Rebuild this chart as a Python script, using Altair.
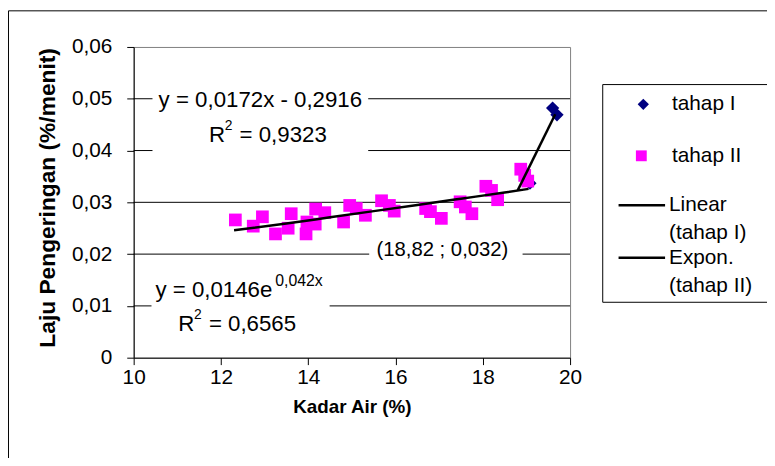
import altair as alt
import pandas as pd

# ---- data ----
# tahap II (magenta squares)
kadar2 = [12.33, 12.74, 12.95, 13.25, 13.54, 13.61, 13.95, 13.97, 14.16, 14.17,
          14.38, 14.81, 14.95, 15.10, 15.31, 15.68, 15.86, 15.97, 16.69, 16.80,
          17.05, 17.48, 17.60, 17.75, 18.07, 18.20, 18.34, 18.87, 18.96, 19.03]
laju2 = [0.0266, 0.0254, 0.0272, 0.0239, 0.0250, 0.0278, 0.0239, 0.0262, 0.0258, 0.0287,
         0.0280, 0.0262, 0.0294, 0.0288, 0.0275, 0.0303, 0.0294, 0.0283, 0.0288, 0.0282,
         0.0269, 0.0301, 0.0291, 0.0278, 0.0331, 0.0323, 0.0305, 0.0364, 0.0352, 0.0341]
# tahap I (navy diamonds)
kadar1 = [19.08, 19.60, 19.70]
laju1 = [0.0337, 0.0482, 0.0469]
# trend lines as drawn
lin_x = [18.80, 19.66]
lin_y = [0.0323, 0.0470]
exp_x = [12.30, 13.50, 14.50, 15.50, 16.50, 17.50, 18.50, 19.05]
exp_y = [0.0246, 0.0259, 0.0271, 0.0283, 0.0295, 0.0307, 0.0319, 0.0326]
grid_vals = [0.01, 0.02, 0.03, 0.04, 0.05]
x_ticks = [10, 12, 14, 16, 18, 20]
y_ticks = [0, 0.01, 0.02, 0.03, 0.04, 0.05, 0.06]

FONT = "Liberation Sans"

df2 = pd.DataFrame({"x": kadar2, "y": laju2})
df1 = pd.DataFrame({"x": kadar1, "y": laju1})
dflin = pd.DataFrame({"x": lin_x, "y": lin_y})
dfexp = pd.DataFrame({"x": exp_x, "y": exp_y})
dfgrid = pd.DataFrame({"y": grid_vals})
one = pd.DataFrame({"k": [0]})

x_enc = alt.X("x:Q", scale=alt.Scale(domain=[10, 20], nice=False, zero=False),
              axis=alt.Axis(values=x_ticks, format="d", title="Kadar Air (%)",
                            grid=False, labelFlush=False, labelPadding=2, titlePadding=10))
y_enc = alt.Y("y:Q", scale=alt.Scale(domain=[0, 0.06], nice=False),
              axis=alt.Axis(values=y_ticks, grid=False, labelFlush=False,
                            labelExpr="datum.value == 0 ? '0' : replace(format(datum.value, '.2f'), '.', ',')",
                            title="Laju Pengeringan (%/menit)", titleFontSize=23,
                            labelPadding=15, titlePadding=12, titleY=152))

grid = alt.Chart(dfgrid).mark_rule(color="black", strokeWidth=1).encode(y=y_enc)


def box(x1, x2, y1, y2, stroke=None):
    kw = dict(fill="white")
    if stroke:
        kw.update(stroke=stroke, strokeWidth=1)
    return alt.Chart(one).mark_rect(**kw).encode(
        x=alt.value(x1), x2=alt.value(x2), y=alt.value(y1), y2=alt.value(y2))


def txt(s, x, y, size=22, align="center", baseline="alphabetic", bold=False):
    return alt.Chart(one).mark_text(
        text=s, font=FONT, fontSize=size, align=align, baseline=baseline,
        color="black", fontWeight="bold" if bold else "normal"
    ).encode(x=alt.value(x), y=alt.value(y))


boxes = [box(19, 237, 41, 107), box(18, 198, 223, 295), box(238, 393, 193, 217)]

pts1 = alt.Chart(df1).mark_point(shape="diamond", filled=True, size=180, color="#000080",
                                 opacity=1).encode(x=x_enc, y=y_enc)
pts2 = alt.Chart(df2).mark_point(shape="square", filled=True, size=165, color="#FF00FF",
                                 opacity=1).encode(x=x_enc, y=y_enc)
lin = alt.Chart(dflin).mark_line(color="black", strokeWidth=2.5).encode(x=x_enc, y=y_enc)
expl = alt.Chart(dfexp).mark_line(color="black", strokeWidth=2.5, interpolate="monotone").encode(x=x_enc, y=y_enc)

texts = [
    txt("y = 0,0172x - 0,2916", 128, 61, size=22.5),
    txt("R", 76, 96, size=22.5, align="left"),
    txt("2", 92, 84, size=14, align="left"),
    txt("= 0,9323", 107, 96, size=22.5, align="left"),
    txt("y = 0,0146e", 22, 253, size=22.5, align="left"),
    txt("0,042x", 143, 242, size=16, align="left"),
    txt("R", 45, 287, size=22.5, align="left"),
    txt("2", 61, 275, size=14, align="left"),
    txt("= 0,6565", 76, 287, size=22.5, align="left"),
    txt("(18,82 ; 0,032)", 312, 211, size=20.5),
]

# legend (drawn)
leg = [
    box(474, 700, 38, 258, stroke="black"),
    alt.Chart(one).mark_point(shape="diamond", filled=True, size=130, color="#000080", opacity=1)
    .encode(x=alt.value(515), y=alt.value(58)),
    alt.Chart(one).mark_point(shape="square", filled=True, size=120, color="#FF00FF", opacity=1)
    .encode(x=alt.value(513), y=alt.value(110)),
    alt.Chart(one).mark_rule(color="black", strokeWidth=2.5)
    .encode(x=alt.value(490), x2=alt.value(537), y=alt.value(160)),
    alt.Chart(one).mark_rule(color="black", strokeWidth=2.5)
    .encode(x=alt.value(490), x2=alt.value(537), y=alt.value(213)),
    txt("tahap I", 544, 58, size=21, align="left", baseline="middle"),
    txt("tahap II", 544, 110, size=21, align="left", baseline="middle"),
    txt("Linear", 541, 160, size=21, align="left", baseline="middle"),
    txt("(tahap I)", 541, 188, size=21, align="left", baseline="middle"),
    txt("Expon.", 541, 213, size=21, align="left", baseline="middle"),
    txt("(tahap II)", 541, 242, size=21, align="left", baseline="middle"),
]

# outer chart border (left and top edges visible in the reference)
border = [
    alt.Chart(one).mark_rule(color="black", strokeWidth=1)
    .encode(x=alt.value(-126.5), y=alt.value(-36.5), y2=alt.value(500)),
    alt.Chart(one).mark_rule(color="black", strokeWidth=1)
    .encode(x=alt.value(-126.5), x2=alt.value(700), y=alt.value(-36.5)),
]

chart = alt.layer(grid, *boxes, pts1, pts2, lin, expl, *texts, *leg, *border).properties(
    width=441, height=314,
    autosize=alt.AutoSizeParams(type="none"),
    padding={"left": 127, "top": 37, "right": 199, "bottom": 99},
    background="white",
).configure_view(
    stroke="#808080", strokeWidth=1
).configure_axis(
    domainColor="black", domainWidth=1, tickColor="black", tickSize=7, tickWidth=1,
    labelFont=FONT, labelFontSize=21, labelColor="black",
    titleFont=FONT, titleFontSize=19, titleFontWeight="bold", titleColor="black",
)

chart.save("out.html", embed_options={"renderer": "svg", "actions": False})
